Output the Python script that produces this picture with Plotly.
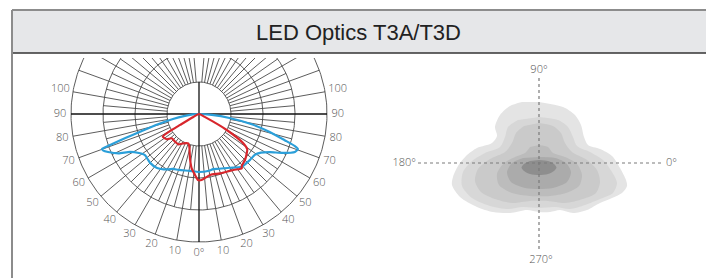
import numpy as np
import plotly.graph_objects as go

# page has an 8 px body margin; the figure fills the rest of the 714x278 window
PAGE_MARGIN = 8
W, H = 714 - PAGE_MARGIN, 278 - PAGE_MARGIN

TITLE = "LED Optics T3A/T3D"

# ---------------- polar intensity diagram (angles from nadir, signed: - = left) -------------
RING_VALUES = [25, 50, 75, 100]
MAJOR_SPOKES = [a for a in range(-170, 171, 10) if a not in (0, -90, 90)]
MINOR_SPOKES = [a for a in range(-175, 176, 10)]
SCALE_LABEL_ANGLES = [-100, -90, -80, -70, -60, -50, -40, -30, -20, -10, 0,
                      10, 20, 30, 40, 50, 60, 70, 80, 90, 100]
SCALE_LABEL_TEXT = ["100", "90", "80", "70", "60", "50", "40", "30", "20", "10", "0°",
                    "10", "20", "30", "40", "50", "60", "70", "80", "90", "100"]

BLUE_ANGLE = [-90, -86, -82, -79, -76, -73.3, -72, -70.8, -70.2, -69, -67.3, -64, -61.2, -57,
              -52.8, -48, -45, -37.9, -30, -25.3, -20, -9, 0, 10, 14.3, 20, 30, 39, 48, 53.8,
              58, 61.8, 65, 68.4, 70.5, 71.5, 73, 75.8, 79, 82.6, 86, 90]
BLUE_VALUE = [0, 5, 12, 20.7, 33, 48, 60, 73.5, 80.5, 80, 77, 70, 61.5, 56,
              53, 53.5, 54, 53.4, 50, 47.5, 46.5, 45, 45.3, 45, 44.4, 45.5, 48.5, 53, 53.6, 54,
              57, 63, 72, 80.6, 82, 79, 70, 57, 42, 24, 10, 0]

RED_ANGLE = [-90, -62, -60, -59.6, -58, -52, -48.3, -41, -34.3, -28, -20, -16.5, -11.5, -7.7,
             -3.75, -0.9, 2.3, 10.2, 19.5, 31.5, 38.2, 39.4, 45, 47.7, 53.8, 56.5, 60, 63, 90]
RED_VALUE = [0, 5, 17, 24.7, 33.4, 32, 28.5, 28.6, 28.7, 26, 24.4, 26.6, 35.3, 42.8,
             47.7, 51.6, 51.6, 48.4, 49.2, 51.3, 54, 52.6, 50.8, 49.6, 46.7, 41.5, 25, 5, 0]

# ---------------- isolux diagram (offsets from the crosshair) -------------
ISO_LABELS = ["0°", "90°", "180°", "270°"]
ISO_COLORS = ["#e4e4e4", "#d7d7d7", "#cacaca", "#bcbcbc", "#ababab", "#8e8e8e"]
ISO_X = [
    [0, 24, 36, 42, 45, 49, 61, 73, 81, 87, 88, 83, 73, 61, 48, 34, 21, 11, 0, -12, -29, -46,
     -62, -79, -87, -86, -81, -73, -62, -47, -42, -44, -39, -29, -17],
    [0, 19, 29, 34, 38, 51, 64, 73, 78, 74, 61, 46, 31, 16, 0, -16, -31, -49, -67, -77, -76,
     -67, -54, -39, -34, -31, -21],
    [0, 14, 22, 26, 33, 48, 58, 61, 57, 44, 26, 9, -9, -27, -44, -58, -64, -61, -49, -34, -27,
     -23, -15],
    [0, 9, 14, 26, 38, 43, 40, 27, 11, -9, -27, -40, -42, -36, -24, -14, -9],
    [0, 16, 27, 32, 28, 14, 0, -14, -28, -32, -27, -16],
    [0, 9, 15, 17.5, 15, 9, 0, -9, -15, -17.5, -15, -9],
]
ISO_Y = [
    [61, 56, 48, 38, 26, 18, 14, 7, -5, -17, -23, -30, -35, -40, -47, -50, -47, -49, -49, -47,
     -50, -49, -44, -34, -22, -14, -3, 7, 15, 20, 27, 36, 48, 57, 61],
    [46, 43, 36, 26, 17, 11, 3, -9, -20, -30, -36, -42, -46, -44, -45, -44, -46, -43, -35, -23,
     -9, 2, 10, 16, 26, 36, 43],
    [40, 37, 30, 20, 11, 3, -7, -19, -30, -36, -40, -38, -38, -40, -36, -29, -18, -6, 4, 11, 20,
     30, 37],
    [18, 16, 10, 6, -1, -12, -23, -30, -33, -33, -30, -22, -11, -1, 6, 10, 16],
    [6, 5, 0, -9, -19, -25, -26, -25, -19, -9, 0, 5],
    [3, 2, -1, -4.5, -8, -11, -12, -11, -8, -4.5, -1, 2],
]

# ---------------- helpers -------------
def pol(theta, r):
    t = np.radians(np.asarray(theta, dtype=float))
    r = np.asarray(r, dtype=float)
    return r * np.sin(t), -r * np.cos(t)


def px_x(px):
    return (px - PAGE_MARGIN) / W


def px_y(py):
    return 1 - (py - PAGE_MARGIN) / H


fig = go.Figure()

# grid rings and spokes
gx, gy = [], []
full = np.linspace(-180, 180, 361)
for rv in RING_VALUES:
    x, y = pol(full, np.full_like(full, rv))
    gx += list(x) + [None]
    gy += list(y) + [None]
for a in MAJOR_SPOKES:
    x, y = pol([a, a], [RING_VALUES[0], RING_VALUES[-1]])
    gx += list(x) + [None]
    gy += list(y) + [None]
for a in MINOR_SPOKES:
    x, y = pol([a, a], [RING_VALUES[0], RING_VALUES[-2]])
    gx += list(x) + [None]
    gy += list(y) + [None]
fig.add_trace(go.Scatter(x=gx, y=gy, mode="lines", line=dict(color="#4a4a4a", width=0.9),
                         hoverinfo="skip", xaxis="x", yaxis="y", showlegend=False))

# main axes
ax_x, ax_y = [], []
x, y = pol([-90, 90], [RING_VALUES[-1], RING_VALUES[-1]])
ax_x += list(x) + [None]
ax_y += list(y) + [None]
x, y = pol([0, 180], [RING_VALUES[-1], RING_VALUES[0]])
ax_x += list(x)
ax_y += list(y)
fig.add_trace(go.Scatter(x=ax_x, y=ax_y, mode="lines", line=dict(color="#111111", width=1.3),
                         hoverinfo="skip", xaxis="x", yaxis="y", showlegend=False))

bx, by = pol(BLUE_ANGLE, BLUE_VALUE)
fig.add_trace(go.Scatter(x=bx, y=by, mode="lines", line=dict(color="#2b9fd9", width=2.2,
                         shape="spline", smoothing=0.6), xaxis="x", yaxis="y", showlegend=False))
rx, ry = pol(RED_ANGLE, RED_VALUE)
fig.add_trace(go.Scatter(x=rx, y=ry, mode="lines", line=dict(color="#d8262c", width=2.2,
                         shape="spline", smoothing=0.6), xaxis="x", yaxis="y", showlegend=False))

lr = [110 if abs(a) == 100 else 108.5 for a in SCALE_LABEL_ANGLES]
lx, ly = pol(SCALE_LABEL_ANGLES, lr)
label_font = dict(family="Open Sans", size=11, color="#555555", weight=300)
fig.add_trace(go.Scatter(x=lx, y=ly, mode="text", text=SCALE_LABEL_TEXT, textfont=label_font,
                         cliponaxis=False, hoverinfo="skip", xaxis="x", yaxis="y",
                         showlegend=False))

# isolux
for xs, ys, col in zip(ISO_X, ISO_Y, ISO_COLORS):
    fig.add_trace(go.Scatter(x=xs, y=ys, mode="lines", fill="toself", fillcolor=col,
                             line=dict(width=0, color=col, shape="spline", smoothing=0.8),
                             hoverinfo="skip", xaxis="x2", yaxis="y2", showlegend=False))
fig.add_trace(go.Scatter(x=[-121, 123, None, 0, 0], y=[0, 0, None, 85, -87], mode="lines",
                         line=dict(color="#7a7a7a", width=1.2, dash="dot"),
                         hoverinfo="skip", xaxis="x2", yaxis="y2", showlegend=False))
fig.add_trace(go.Scatter(x=[127, 0, -123, 2], y=[0, 93, 0, -97], mode="text",
                         text=ISO_LABELS, textposition=["middle right", "middle center",
                                                        "middle left", "middle center"],
                         textfont=label_font,
                         cliponaxis=False, hoverinfo="skip", xaxis="x2", yaxis="y2",
                         showlegend=False))

axis_common = dict(showgrid=False, zeroline=False, showticklabels=False, showline=False,
                   ticks="", fixedrange=True)
fig.update_layout(
    width=W, height=H, margin=dict(l=0, r=0, t=0, b=0),
    paper_bgcolor="white", plot_bgcolor="rgba(0,0,0,0)",
    xaxis=dict(domain=[px_x(39), px_x(359)], range=[-125, 125], **axis_common),
    yaxis=dict(domain=[px_y(270), px_y(58)], range=[-121.875, 43.75], **axis_common),
    xaxis2=dict(domain=[px_x(380), px_x(700)], range=[-159, 161], **axis_common),
    yaxis2=dict(domain=[px_y(275), px_y(58)], range=[-112, 105], **axis_common),
    shapes=[
        dict(type="rect", xref="paper", yref="paper", x0=px_x(12), x1=px_x(707),
             y0=px_y(53), y1=px_y(10), fillcolor="#e6e7e9", line=dict(width=0), layer="below"),
        dict(type="line", xref="paper", yref="paper", x0=px_x(12), x1=px_x(707),
             y0=px_y(53), y1=px_y(53), line=dict(color="#333333", width=1.5)),
        dict(type="line", xref="paper", yref="paper", x0=px_x(12), x1=px_x(707),
             y0=px_y(10), y1=px_y(10), line=dict(color="#8c8c8c", width=2)),
        dict(type="line", xref="paper", yref="paper", x0=px_x(12), x1=px_x(12),
             y0=px_y(10), y1=0, line=dict(color="#8c8c8c", width=2)),
        dict(type="line", xref="paper", yref="paper", x0=px_x(707), x1=px_x(707),
             y0=px_y(10), y1=0, line=dict(color="#8c8c8c", width=2)),
    ],
    annotations=[dict(text=TITLE, xref="paper", yref="paper", x=px_x(358), y=px_y(32),
                      showarrow=False, xanchor="center", yanchor="middle",
                      font=dict(family="Liberation Sans", size=22, color="#222222"))],
)

fig.write_html("out.html")
